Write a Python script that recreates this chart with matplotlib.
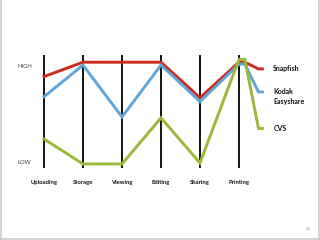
import matplotlib
matplotlib.use("Agg")
import matplotlib.pyplot as plt
from matplotlib.lines import Line2D

# ----------- DATA -----------
categories = ["Uploading", "Storage", "Viewing", "Editing", "Sharing", "Printing"]
series_names = ["Snapfish", "Kodak\nEasyshare", "CVS"]
# score: LOW = 0, HIGH = 10
snapfish = [9.0, 10.5, 10.5, 10.5, 6.8, 10.5]
kodak = [6.9, 10.2, 4.8, 10.2, 6.4, 10.3]
cvs = [2.5, -0.1, -0.1, 4.7, 0.0, 10.8]
# where each line ends up next to its label
label_levels = [9.8, 7.4, 3.6]
tail_x = [5.15, 5.5, 5.6]

colors = ["#cc2a1e", "#5ea6da", "#9ab83a"]

# ----------- FIGURE -----------
fig = plt.figure(figsize=(3.2, 2.4), dpi=100)
ax = fig.add_axes([0, 0, 1, 1])
ax.set_xlim(-44 / 39, 276 / 39)
ax.set_ylim((163 - 240) / 9.6, 163 / 9.6)
ax.axis("off")

xs = list(range(len(categories)))

# axis bars
ax.vlines(xs, -0.52, 11.25, color="black", lw=1.3, zorder=1)

for vals, lvl, c in zip([snapfish, kodak, cvs], label_levels, colors):
    x = xs + tail_x
    y = vals + [vals[-1], lvl, lvl]
    ax.plot(x, y, color=c, lw=2.1, solid_joinstyle="miter", zorder=2)

for name, lvl in zip(series_names, label_levels):
    va_off = 0.45 if "\n" in name else 0
    ax.text(5.88, lvl - va_off, name, fontsize=5.0, fontweight="bold",
            family="Lato", va="center", ha="left", color="#111111",
            linespacing=1.45)

for i, cat in enumerate(categories):
    ax.text(i, -2.0, cat, fontsize=4.2, fontweight="bold", family="Lato",
            ha="center", va="center", color="#111111")

ax.text(-0.69, 10, "HIGH", fontsize=4.2, family="Lato", ha="left",
        va="center", color="#444444")
ax.text(-0.69, 0, "LOW", fontsize=4.2, family="Lato", ha="left",
        va="center", color="#444444")

ax.text(0.963, 0.045, "40", transform=fig.transFigure, fontsize=3.0,
        family="Lato", ha="center", va="center", color="#999999")

# slide frame
fr = "#cccccc"
fig.add_artist(Line2D([0.002, 0.002], [0, 1], color=fr, lw=1.2, transform=fig.transFigure))
fig.add_artist(Line2D([0.997, 0.997], [0, 1], color=fr, lw=1.2, transform=fig.transFigure))
fig.add_artist(Line2D([0, 1], [0.003, 0.003], color=fr, lw=1.2, transform=fig.transFigure))

fig.savefig("out.png", dpi=100)
